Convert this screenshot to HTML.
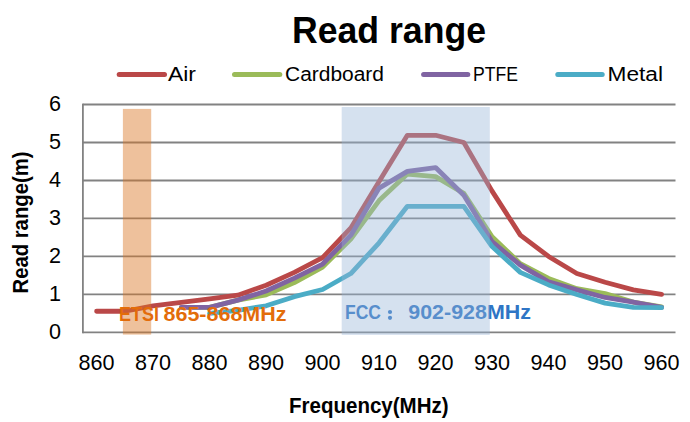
<!DOCTYPE html>
<html><head><meta charset="utf-8"><style>
html,body{margin:0;padding:0;background:#fff;width:690px;height:422px;overflow:hidden}
svg{display:block}
text{font-family:"Liberation Sans",sans-serif}
</style></head><body>
<svg width="690" height="422" viewBox="0 0 690 422">
<rect width="690" height="422" fill="#fff"/>
<text x="292" y="42.5" font-size="37.3" font-weight="bold" textLength="194" lengthAdjust="spacingAndGlyphs" fill="#000">Read range</text>
<g stroke-width="5" stroke-linecap="round"><line x1="119.2" y1="74.4" x2="164.5" y2="74.4" stroke="#BA4848"/><line x1="234.5" y1="74.4" x2="279.8" y2="74.4" stroke="#9BBB59"/><line x1="423.6" y1="74.4" x2="467.8" y2="74.4" stroke="#8064A2"/><line x1="557.8" y1="74.4" x2="602.2" y2="74.4" stroke="#4BACC6"/></g>
<text x="168" y="80.7" font-size="19.5" textLength="28" lengthAdjust="spacingAndGlyphs" fill="#000">Air</text><text x="285" y="80.7" font-size="19.5" textLength="99" lengthAdjust="spacingAndGlyphs" fill="#000">Cardboard</text><text x="473" y="80.7" font-size="19.5" textLength="45" lengthAdjust="spacingAndGlyphs" fill="#000">PTFE</text><text x="607.5" y="80.7" font-size="19.5" textLength="55.5" lengthAdjust="spacingAndGlyphs" fill="#000">Metal</text>
<g stroke="#828282" stroke-width="1.8" fill="none"><line x1="82.5" y1="332.40" x2="675.5" y2="332.40"/><line x1="82.5" y1="294.42" x2="675.5" y2="294.42"/><line x1="82.5" y1="256.44" x2="675.5" y2="256.44"/><line x1="82.5" y1="218.46" x2="675.5" y2="218.46"/><line x1="82.5" y1="180.48" x2="675.5" y2="180.48"/><line x1="82.5" y1="142.50" x2="675.5" y2="142.50"/><line x1="82.5" y1="104.52" x2="675.5" y2="104.52"/><line x1="82.9" y1="103.72" x2="82.9" y2="333.20"/></g>
<g fill="#000"><text x="55.1" y="339.00" text-anchor="middle" font-size="22.5" textLength="12" lengthAdjust="spacingAndGlyphs">0</text><text x="55.1" y="301.02" text-anchor="middle" font-size="22.5" textLength="12" lengthAdjust="spacingAndGlyphs">1</text><text x="55.1" y="263.04" text-anchor="middle" font-size="22.5" textLength="12" lengthAdjust="spacingAndGlyphs">2</text><text x="55.1" y="225.06" text-anchor="middle" font-size="22.5" textLength="12" lengthAdjust="spacingAndGlyphs">3</text><text x="55.1" y="187.08" text-anchor="middle" font-size="22.5" textLength="12" lengthAdjust="spacingAndGlyphs">4</text><text x="55.1" y="149.10" text-anchor="middle" font-size="22.5" textLength="12" lengthAdjust="spacingAndGlyphs">5</text><text x="55.1" y="111.12" text-anchor="middle" font-size="22.5" textLength="12" lengthAdjust="spacingAndGlyphs">6</text><text x="96.60" y="369.5" text-anchor="middle" font-size="22.5" textLength="36" lengthAdjust="spacingAndGlyphs">860</text><text x="153.10" y="369.5" text-anchor="middle" font-size="22.5" textLength="36" lengthAdjust="spacingAndGlyphs">870</text><text x="209.60" y="369.5" text-anchor="middle" font-size="22.5" textLength="36" lengthAdjust="spacingAndGlyphs">880</text><text x="266.10" y="369.5" text-anchor="middle" font-size="22.5" textLength="36" lengthAdjust="spacingAndGlyphs">890</text><text x="322.60" y="369.5" text-anchor="middle" font-size="22.5" textLength="36" lengthAdjust="spacingAndGlyphs">900</text><text x="379.10" y="369.5" text-anchor="middle" font-size="22.5" textLength="36" lengthAdjust="spacingAndGlyphs">910</text><text x="435.60" y="369.5" text-anchor="middle" font-size="22.5" textLength="36" lengthAdjust="spacingAndGlyphs">920</text><text x="492.10" y="369.5" text-anchor="middle" font-size="22.5" textLength="36" lengthAdjust="spacingAndGlyphs">930</text><text x="548.60" y="369.5" text-anchor="middle" font-size="22.5" textLength="36" lengthAdjust="spacingAndGlyphs">940</text><text x="605.10" y="369.5" text-anchor="middle" font-size="22.5" textLength="36" lengthAdjust="spacingAndGlyphs">950</text><text x="661.60" y="369.5" text-anchor="middle" font-size="22.5" textLength="36" lengthAdjust="spacingAndGlyphs">960</text></g>
<g fill="none" stroke-width="4.8" stroke-linejoin="round" stroke-linecap="round">
<polyline points="96.60,311.25 124.85,311.25 153.10,305.81 181.35,302.40 209.60,298.98 237.85,295.18 266.10,285.30 294.35,272.39 322.60,257.58 350.85,227.95 379.10,181.62 407.35,135.28 435.60,135.28 463.85,142.50 492.10,191.11 520.35,235.17 548.60,256.44 576.85,273.53 605.10,282.27 633.35,289.86 661.60,294.42" stroke="#BA4848"/>
<polyline points="181.35,307.33 209.60,307.33 237.85,300.12 266.10,294.80 294.35,282.65 322.60,267.07 350.85,238.97 379.10,200.61 407.35,174.02 435.60,176.68 463.85,193.39 492.10,236.69 520.35,263.66 548.60,278.47 576.85,288.72 605.10,293.66 633.35,302.02 661.60,306.95" stroke="#9BBB59"/>
<polyline points="181.35,307.33 209.60,307.33 237.85,300.12 266.10,291.00 294.35,278.09 322.60,264.04 350.85,235.17 379.10,188.08 407.35,171.36 435.60,167.57 463.85,195.29 492.10,241.63 520.35,265.18 548.60,281.89 576.85,289.86 605.10,297.46 633.35,302.02 661.60,307.33" stroke="#8064A2"/>
<polyline points="209.60,313.41 237.85,310.37 266.10,305.81 294.35,296.70 322.60,289.48 350.85,273.53 379.10,242.77 407.35,206.31 435.60,206.31 463.85,206.31 492.10,246.57 520.35,272.39 548.60,284.92 576.85,294.42 605.10,303.16 633.35,307.33 661.60,307.71" stroke="#4BACC6"/>
</g>
<rect x="122.9" y="108.9" width="28.3" height="225.7" fill="#D97523" fill-opacity="0.45"/>
<text x="345" y="319" font-size="19.5" font-weight="bold" textLength="36" lengthAdjust="spacingAndGlyphs" fill="#2F75C5">FCC</text><text x="408.3" y="319" font-size="19.5" font-weight="bold" textLength="122.6" lengthAdjust="spacingAndGlyphs" fill="#2F75C5">902-928MHz</text><circle cx="390" cy="312" r="2.1" fill="#2F75C5"/><circle cx="390" cy="317.8" r="2.1" fill="#2F75C5"/>
<rect x="341.7" y="107" width="148.1" height="227.9" fill="#95B3D7" fill-opacity="0.4"/>
<text x="119" y="320.6" font-size="20.5" font-weight="bold" textLength="40" lengthAdjust="spacingAndGlyphs" fill="#E36C0A">ETSI</text><text x="163.5" y="320.6" font-size="20.5" font-weight="bold" textLength="123" lengthAdjust="spacingAndGlyphs" fill="#E36C0A">865-868MHz</text>
<text x="289" y="413" font-size="22" font-weight="bold" textLength="159.6" lengthAdjust="spacingAndGlyphs" fill="#000">Frequency(MHz)</text>
<text transform="translate(28.2,293.5) rotate(-90)" font-size="21.8" font-weight="bold" textLength="142" lengthAdjust="spacingAndGlyphs" fill="#000">Read range(m)</text>
</svg>
</body></html>
